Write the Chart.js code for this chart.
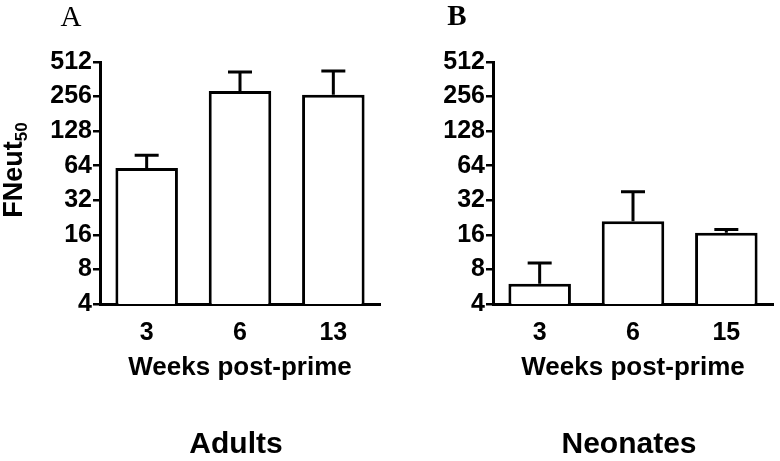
<!DOCTYPE html>
<html>
<head>
<meta charset="utf-8">
<script src="https://cdn.jsdelivr.net/npm/chart.js@4"></script>
<style>
  body { margin: 0; background: #fff; }
  #wrap { position: relative; width: 780px; height: 461px; }
  .panel { position: absolute; top: 0; width: 390px; height: 461px; }
</style>
</head>
<body>
<div id="wrap">
  <div class="panel" style="left:0"><canvas id="chartA"></canvas></div>
  <div class="panel" style="left:390px"><canvas id="chartB"></canvas></div>
</div>
<script>
// datos
const yTicks = [4, 8, 16, 32, 64, 128, 256, 512];

const adultWeeks = ['3', '6', '13'];
const adultMeans = [61, 286, 265];
const adultUpper = [79, 420, 428];

const neonateWeeks = ['3', '6', '15'];
const neonateMeans = [6, 21, 16.7];
const neonateUpper = [9.1, 38, 17.8];

const labelFont = { family: 'Liberation Sans', weight: 'bold', size: 25 };

// barras de error (solo hacia arriba)
const errorBars = {
    id: 'errorBars',
    afterDatasetsDraw(chart, args, opts) {
        const ctx = chart.ctx;
        const yScale = chart.scales.y;
        const meta = chart.getDatasetMeta(0);
        ctx.save();
        ctx.strokeStyle = '#000';
        ctx.lineWidth = 3;
        meta.data.forEach(function(bar, i) {
            const yTop = yScale.getPixelForValue(opts.upper[i]);
            ctx.beginPath();
            ctx.moveTo(bar.x, bar.y);
            ctx.lineTo(bar.x, yTop);
            ctx.moveTo(bar.x - 12, yTop);
            ctx.lineTo(bar.x + 12, yTop);
            ctx.stroke();
        });
        ctx.restore();
    }
};

// textos: letra del panel, titulo eje y, titulo eje x, grupo
const panelText = {
    id: 'panelText',
    afterDraw(chart, args, opts) {
        const ctx = chart.ctx;
        const area = chart.chartArea;
        const midX = (area.left + area.right) / 2;
        ctx.save();
        ctx.fillStyle = '#000';
        ctx.textAlign = 'center';
        ctx.textBaseline = 'middle';

        ctx.font = (opts.letterBold ? 'bold ' : '') + '29px "Liberation Serif"';
        ctx.fillText(opts.letter, opts.letterX, 18);

        ctx.font = 'bold 26px "Liberation Sans"';
        ctx.fillText('Weeks post-prime', midX, 368);

        ctx.font = 'bold 30px "Liberation Sans"';
        ctx.fillText(opts.group, midX - 4, 445);

        if (opts.yTitle) {
            ctx.translate(15, 170);
            ctx.rotate(-Math.PI / 2);
            ctx.font = 'bold 27px "Liberation Sans"';
            const w1 = ctx.measureText('FNeut').width;
            ctx.font = 'bold 17px "Liberation Sans"';
            const w2 = ctx.measureText('50').width;
            const x0 = -(w1 + w2) / 2;
            ctx.textAlign = 'left';
            ctx.font = 'bold 27px "Liberation Sans"';
            ctx.fillText('FNeut', x0, 0);
            ctx.font = 'bold 17px "Liberation Sans"';
            ctx.fillText('50', x0 + w1, 7);
        }
        ctx.restore();
    }
};

function makeChart(canvasId, weeks, means, upper, cfg) {
    return new Chart(document.getElementById(canvasId).getContext('2d'), {
        type: 'bar',
        data: {
            labels: weeks,
            datasets: [{
                data: means,
                backgroundColor: '#fff',
                borderColor: '#000',
                borderWidth: 3,
                borderSkipped: 'bottom',
                barPercentage: 0.67,
                categoryPercentage: 1
            }]
        },
        options: {
            responsive: true,
            maintainAspectRatio: false,
            animation: false,
            events: [],
            layout: { padding: { left: 0, right: cfg.rightPad, top: 62, bottom: 0 } },
            plugins: {
                legend: { display: false },
                tooltip: { enabled: false },
                errorBars: { upper: upper },
                panelText: cfg.text
            },
            scales: {
                x: {
                    grid: { display: false },
                    border: { display: true, color: '#000', width: 3 },
                    ticks: { color: '#000', font: labelFont, padding: 6 },
                    afterFit: function(scale) { scale.height = 157; }
                },
                y: {
                    type: 'logarithmic',
                    min: 4,
                    max: 512,
                    grid: { drawOnChartArea: false, color: '#000', lineWidth: 2.5, tickLength: 7 },
                    border: { display: true, color: '#000', width: 3 },
                    ticks: {
                        color: '#000',
                        font: labelFont,
                        padding: 1,
                        autoSkip: false,
                        callback: function(v) { return String(v); }
                    },
                    afterBuildTicks: function(scale) {
                        scale.ticks = yTicks.map(function(v) { return { value: v }; });
                    },
                    afterFit: function(scale) { scale.width = cfg.yWidth; }
                }
            }
        },
        plugins: [errorBars, panelText]
    });
}

makeChart('chartA', adultWeeks, adultMeans, adultUpper, {
    rightPad: 10, yWidth: 100,
    text: { letter: 'A', letterX: 71, group: 'Adults', yTitle: true }
});

makeChart('chartB', neonateWeeks, neonateMeans, neonateUpper, {
    rightPad: 7, yWidth: 103,
    text: { letter: 'B', letterX: 67, letterBold: true, group: 'Neonates', yTitle: false }
});
</script>
</body>
</html>
